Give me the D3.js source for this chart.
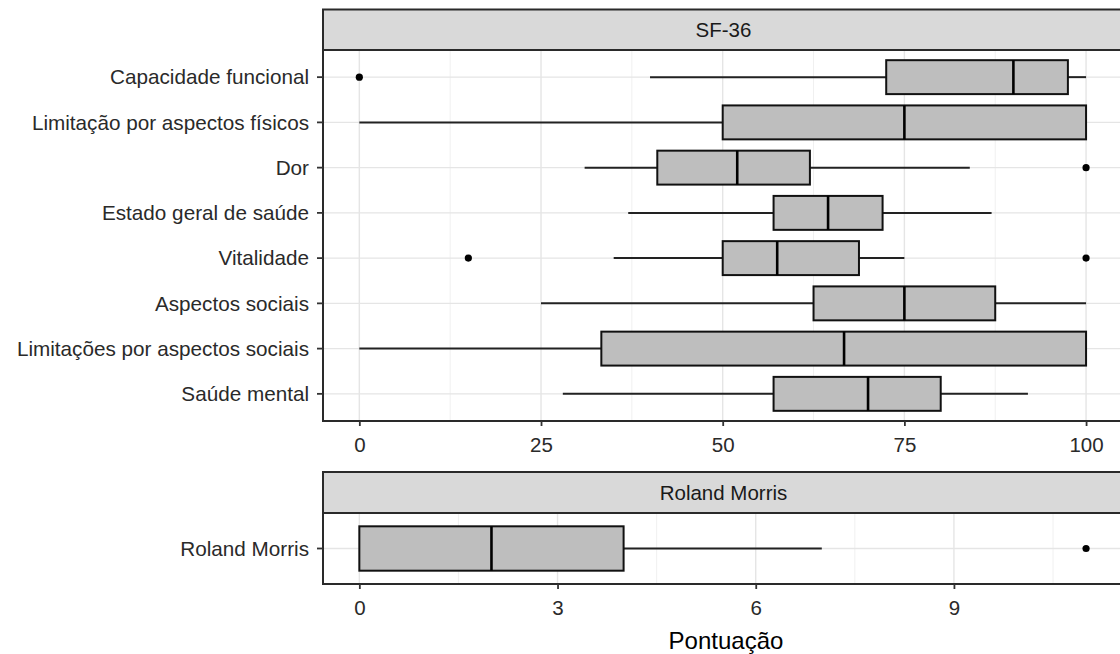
<!DOCTYPE html>
<html lang="pt">
<head>
    <meta charset="utf-8">
    <title>SF-36 e Roland Morris</title>
    <script type="text/javascript" src="https://cdn.jsdelivr.net/npm/d3@7"></script>
    <style>
        body { margin: 0; background: #fff; }
        text { font-family: "Liberation Sans", Arial, sans-serif; }
    </style>
</head>
<body>
<script type="text/javascript">
    // SF-36 domains (top panel)
    var categories = [
        "Capacidade funcional",
        "Limitação por aspectos físicos",
        "Dor",
        "Estado geral de saúde",
        "Vitalidade",
        "Aspectos sociais",
        "Limitações por aspectos sociais",
        "Saúde mental"
    ];
    var whiskerLow  = [40, 0, 31, 37, 35, 25, 0, 28];
    var q1          = [72.5, 50, 41, 57, 50, 62.5, 33.3, 57];
    var median      = [90, 75, 52, 64.5, 57.5, 75, 66.7, 70];
    var q3          = [97.5, 100, 62, 72, 68.75, 87.5, 100, 80];
    var whiskerHigh = [100, 100, 84, 87, 75, 100, 100, 92];
    var outliers    = [[0], [], [100], [], [15, 100], [], [], []];
    var xTicks = [0, 25, 50, 75, 100];
    var xMinor = [12.5, 37.5, 62.5, 87.5];

    // Roland Morris (bottom panel)
    var rmCategories = ["Roland Morris"];
    var rmWhiskerLow  = [0];
    var rmQ1          = [0];
    var rmMedian      = [2];
    var rmQ3          = [4];
    var rmWhiskerHigh = [7];
    var rmOutliers    = [[11]];
    var rmTicks = [0, 3, 6, 9];
    var rmMinor = [1.5, 4.5, 7.5, 10.5];

    var w = 1120;
    var h = 654;
    var left = 323, right = 1122.4;

    var svg = d3.select("body")
            .append("svg")
            .attr("width", w)
            .attr("height", h);

    // desenha um painel com faixa (strip), grade, caixas e eixos
    function panel(opt) {
        var x = d3.scaleLinear().domain(opt.xDomain).range([left, right]);
        var n = opt.cats.length;
        var step = (opt.bottom - opt.top) / (n - 1 + 1.2);
        var y = d3.scalePoint().domain(opt.cats)
                .range([opt.top + 0.6 * step, opt.bottom - 0.6 * step]);
        if (n === 1) y = function () { return (opt.top + opt.bottom) / 2; };
        var g = svg.append("g");

        // grade menor e maior
        g.selectAll("line.minor").data(opt.minor).enter().append("line")
                .attr("x1", function (d) { return x(d); })
                .attr("x2", function (d) { return x(d); })
                .attr("y1", opt.top).attr("y2", opt.bottom)
                .attr("stroke", "#f0f0f0").attr("stroke-width", 1);
        g.selectAll("line.major").data(opt.ticks).enter().append("line")
                .attr("x1", function (d) { return x(d); })
                .attr("x2", function (d) { return x(d); })
                .attr("y1", opt.top).attr("y2", opt.bottom)
                .attr("stroke", "#e5e5e5").attr("stroke-width", 1.4);
        g.selectAll("line.hgrid").data(opt.cats).enter().append("line")
                .attr("x1", left).attr("x2", right)
                .attr("y1", function (d) { return y(d); })
                .attr("y2", function (d) { return y(d); })
                .attr("stroke", "#e5e5e5").attr("stroke-width", 1.4);

        var bh = 0.75 * step;
        var rows = opt.cats.map(function (c, i) {
            return {c: c, lo: opt.lo[i], q1: opt.q1[i], med: opt.med[i],
                q3: opt.q3[i], hi: opt.hi[i], out: opt.out[i]};
        });
        var row = g.selectAll("g.row").data(rows).enter().append("g");
        // bigodes
        row.append("line")
                .attr("x1", function (d) { return x(d.lo); })
                .attr("x2", function (d) { return x(d.q1); })
                .attr("y1", function (d) { return y(d.c); })
                .attr("y2", function (d) { return y(d.c); })
                .attr("stroke", "#222").attr("stroke-width", 2);
        row.append("line")
                .attr("x1", function (d) { return x(d.q3); })
                .attr("x2", function (d) { return x(d.hi); })
                .attr("y1", function (d) { return y(d.c); })
                .attr("y2", function (d) { return y(d.c); })
                .attr("stroke", "#222").attr("stroke-width", 2);
        // caixas
        row.append("rect")
                .attr("x", function (d) { return x(d.q1); })
                .attr("y", function (d) { return y(d.c) - bh / 2; })
                .attr("width", function (d) { return x(d.q3) - x(d.q1); })
                .attr("height", bh)
                .attr("fill", "#bebebe")
                .attr("stroke", "#111").attr("stroke-width", 2);
        row.append("line")
                .attr("x1", function (d) { return x(d.med); })
                .attr("x2", function (d) { return x(d.med); })
                .attr("y1", function (d) { return y(d.c) - bh / 2; })
                .attr("y2", function (d) { return y(d.c) + bh / 2; })
                .attr("stroke", "#000").attr("stroke-width", 2.6);
        row.selectAll("circle").data(function (d) {
            return d.out.map(function (v) { return {v: v, c: d.c}; });
        }).enter().append("circle")
                .attr("cx", function (d) { return x(d.v); })
                .attr("cy", function (d) { return y(d.c); })
                .attr("r", 3.6)
                .attr("fill", "#000");

        // borda do painel
        g.append("rect")
                .attr("x", left).attr("y", opt.top)
                .attr("width", right - left).attr("height", opt.bottom - opt.top)
                .attr("fill", "none").attr("stroke", "#2a2a2a").attr("stroke-width", 2);
        // strip
        g.append("rect")
                .attr("x", left).attr("y", opt.stripTop)
                .attr("width", right - left).attr("height", opt.top - opt.stripTop)
                .attr("fill", "#d9d9d9").attr("stroke", "#2a2a2a").attr("stroke-width", 2);
        g.append("text")
                .attr("x", (left + 1120) / 2 + 2)
                .attr("y", (opt.stripTop + opt.top) / 2)
                .attr("dy", "0.35em")
                .attr("text-anchor", "middle")
                .attr("font-size", "20.5px")
                .attr("fill", "#1a1a1a")
                .text(opt.title);

        // eixo y
        var yAxis = g.append("g").attr("transform", "translate(" + left + ",0)");
        opt.cats.forEach(function (c) {
            yAxis.append("line").attr("x1", -6).attr("x2", 0)
                    .attr("y1", y(c)).attr("y2", y(c))
                    .attr("stroke", "#333").attr("stroke-width", 1.8);
            yAxis.append("text").attr("x", -14).attr("y", y(c))
                    .attr("dy", "0.35em").attr("text-anchor", "end")
                    .attr("font-size", "20.7px").attr("fill", "#2a2a2a")
                    .text(c);
        });

        // eixo x
        var xAxis = g.append("g")
                .attr("transform", "translate(0," + opt.bottom + ")")
                .call(d3.axisBottom(x).tickValues(opt.ticks).tickSize(5).tickPadding(11));
        xAxis.select(".domain").remove();
        xAxis.selectAll(".tick line").attr("stroke", "#333").attr("stroke-width", 1.8);
        xAxis.selectAll(".tick text")
                .attr("font-size", "20.5px")
                .attr("font-family", "'Liberation Sans', Arial, sans-serif")
                .attr("fill", "#2a2a2a");
    }

    panel({
        title: "SF-36", cats: categories, xDomain: [-5, 105],
        ticks: xTicks, minor: xMinor,
        stripTop: 9.5, top: 50, bottom: 421,
        lo: whiskerLow, q1: q1, med: median, q3: q3, hi: whiskerHigh, out: outliers
    });
    panel({
        title: "Roland Morris", cats: rmCategories, xDomain: [-0.55, 11.55],
        ticks: rmTicks, minor: rmMinor,
        stripTop: 472, top: 513, bottom: 584,
        lo: rmWhiskerLow, q1: rmQ1, med: rmMedian, q3: rmQ3, hi: rmWhiskerHigh, out: rmOutliers
    });

    // título do eixo x
    svg.append("text")
            .attr("x", 726)
            .attr("y", 649)
            .attr("text-anchor", "middle")
            .attr("font-size", "24px")
            .attr("fill", "#000")
            .text("Pontuação");
</script>
</body>
</html>
